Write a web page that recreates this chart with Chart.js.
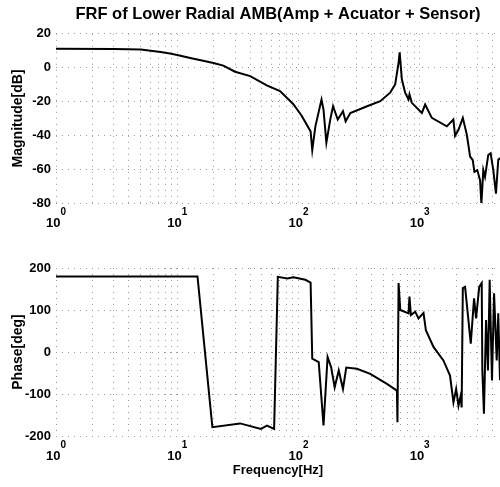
<!DOCTYPE html>
<html lang="en">
<head>
    <meta charset="UTF-8">
    <title>FRF of Lower Radial AMB</title>
    <script src="https://cdn.jsdelivr.net/npm/chart.js"></script>
    <style>
        body { margin: 0; background: #fff; }
        .wrap { position: relative; width: 500px; height: 487px; }
        canvas { position: absolute; left: 0; }
        #magChart { top: 0; }
        #phaseChart { top: 240px; }
    </style>
</head>
<body>
    <div class="wrap">
        <canvas id="magChart" width="500" height="230"></canvas>
        <canvas id="phaseChart" width="500" height="247"></canvas>
    </div>

    <script>
        // magnitude response
        const magFreq = [1, 3, 5, 7.3, 8.7, 10, 12.8, 16, 19.9, 24, 30, 40, 54.8, 70.5, 90.8, 106, 126, 130, 138, 155, 161, 170,
            183, 193, 211, 233, 245, 268, 368, 473, 571, 628, 670, 684, 713, 759, 809, 824, 862, 1043, 1110, 1260,
            1675, 1897, 1960, 2090, 2270, 2450, 2607, 2740, 2830, 2990, 3150, 3230, 3350, 3460, 3680, 3850, 4050, 4260, 4450, 4600];
        const magDb = [11.2, 11, 10.7, 9.2, 8.3, 7.5, 5.7, 4.2, 2.7, 1.2, -2.4, -5, -10.5, -13.9, -21.6, -28.3, -37.7, -48.7, -34.7, -18.8, -24.8, -44.3,
            -30.7, -22.8, -30.7, -25.8, -31.7, -26.8, -22.8, -19.8, -14.8, -9.9, 3, 9, -6.9, -14.8, -18.8, -15.8, -20.8, -26.8, -21.8, -29.7,
            -34.7, -30.7, -40.3, -36.7, -29.7, -39.7, -52.6, -54.6, -61.6, -60.6, -66.6, -80.5, -60.6, -64.6, -51.6, -50.6, -60.6, -74.5, -54.6, -53.4];

        // phase response
        const phaseFreq = [1, 14.7, 19.5, 33, 49, 55, 63, 67.6, 81, 91, 114, 126, 130, 147, 161, 174, 186, 199, 215, 233,
            248, 304, 391, 537, 649, 656, 670, 692, 809, 824, 847, 919, 978, 1076, 1125, 1300, 1570, 1780, 1900, 2000,
            2090, 2180, 2220, 2270, 2370, 2640, 2810, 2920, 3100, 3250, 3290, 3390, 3530, 3660, 3780, 3950, 4110, 4320, 4450, 4600];
        const phaseDeg = [180, 180, -179, -170, -183, -175, -183, 179, 175, 178, 172, 165, -16, -24, -175, -12, -36, -84, -44, -88,
            -37, -40, -52, -76, -92, -167, 164, 100, 92, 132, 88, 96, 80, 93, 52, 12, -20, -56, -120, -88,
            -128, -104, -132, 152, 155, 20, 128, 80, 155, 164, -44, -147, 76, -44, 172, -68, 140, -20, 92, -67];

        const magTicks = [-80, -60, -40, -20, 0, 20];
        const phaseTicks = [-200, -100, 0, 100, 200];
        const decades = [1, 10, 100, 1000];
        const exponents = ['0', '1', '2', '3'];

        const FONT = "'Liberation Sans', Arial, sans-serif";
        const gridStyle = { color: '#9a9a9a', lineWidth: 1, drawTicks: false };
        const borderStyle = { display: false, dash: [1, 5] };

        function logTicks() {
            const t = [];
            for (let d = 1; d <= 1000; d *= 10)
                for (let m = 1; m <= 9; m++) if (d * m <= 4600) t.push({ value: d * m });
            return t;
        }

        // "10" with a raised exponent under each decade
        const decadeLabels = {
            id: 'decadeLabels',
            afterDraw(chart) {
                const s = chart.scales.x, ctx = chart.ctx;
                ctx.save();
                ctx.fillStyle = '#000';
                ctx.textAlign = 'left';
                ctx.textBaseline = 'alphabetic';
                decades.forEach((d, i) => {
                    const x = s.getPixelForValue(d);
                    ctx.font = 'bold 13px ' + FONT;
                    const w1 = ctx.measureText('10').width;
                    ctx.font = 'bold 10px ' + FONT;
                    const w2 = ctx.measureText(exponents[i]).width;
                    const x0 = x - (w1 + w2) / 2;
                    ctx.font = 'bold 13px ' + FONT;
                    ctx.fillText('10', x0, s.top + 24);
                    ctx.font = 'bold 10px ' + FONT;
                    ctx.fillText(exponents[i], x0 + w1, s.top + 12);
                });
                ctx.restore();
            }
        };

        function makeChart(id, freq, vals, yMin, yMax, yTicks, yTitle, opts) {
            const pts = freq.map((f, i) => ({ x: f, y: vals[i] }));
            return new Chart(document.getElementById(id), {
                type: 'line',
                data: { datasets: [{ data: pts, borderColor: '#000', borderWidth: 2, pointRadius: 0, tension: 0 }] },
                plugins: [decadeLabels],
                options: {
                    responsive: false, animation: false,
                    layout: { padding: { top: opts.padTop, right: 0, left: 0, bottom: 0 } },
                    plugins: {
                        legend: { display: false }, tooltip: { enabled: false },
                        title: opts.title ? {
                            display: true, text: opts.title, color: '#000', fullSize: false,
                            font: { family: FONT, size: 16.5, weight: 'bold' }, padding: { top: 5, bottom: 9 }
                        } : { display: false }
                    },
                    scales: {
                        x: {
                            type: 'logarithmic', min: 1, max: 4600,
                            border: borderStyle, grid: gridStyle,
                            afterBuildTicks: s => { s.ticks = logTicks(); },
                            afterFit: s => { s.height = opts.xHeight; },
                            ticks: { autoSkip: false, maxRotation: 0, callback: () => '' },
                            title: opts.xTitle ? {
                                display: true, text: opts.xTitle, color: '#000', padding: { bottom: 9 },
                                font: { family: FONT, size: 13, weight: 'bold' }
                            } : { display: false }
                        },
                        y: {
                            min: yMin, max: yMax,
                            border: borderStyle, grid: gridStyle,
                            afterBuildTicks: s => { s.ticks = yTicks.map(v => ({ value: v })); },
                            afterFit: s => { s.width = 56; },
                            ticks: { padding: 5, color: '#000', font: { family: FONT, size: 13, weight: 'bold' } },
                            title: {
                                display: true, text: yTitle, color: '#000', padding: { top: 10 },
                                font: { family: FONT, size: 14, weight: 'bold' }
                            }
                        }
                    }
                }
            });
        }

        makeChart('magChart', magFreq, magDb, -80, 20, magTicks, 'Magnitude[dB]',
            { title: 'FRF of Lower Radial AMB(Amp + Acuator + Sensor)', padTop: 0, xHeight: 27 });
        makeChart('phaseChart', phaseFreq, phaseDeg, -200, 200, phaseTicks, 'Phase[deg]',
            { padTop: 28, xHeight: 51, xTitle: 'Frequency[Hz]' });
    </script>
</body>
</html>
